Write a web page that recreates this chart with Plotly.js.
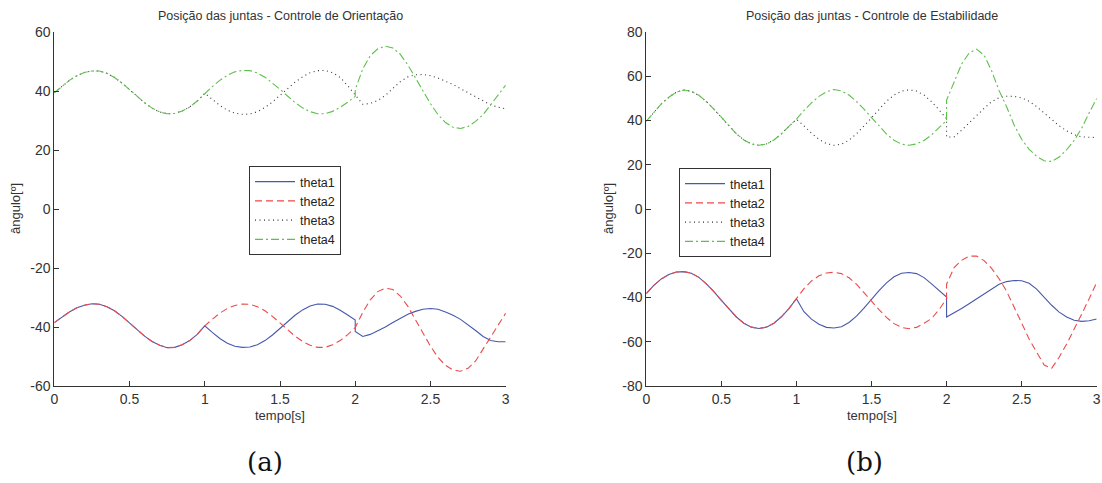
<!DOCTYPE html>
<html>
<head>
<meta charset="utf-8">
<script src="https://cdn.plot.ly/plotly-3.0.1.min.js"></script>
<style>html,body{margin:0;padding:0;background:#fff;}#chart{width:1102px;height:483px;}</style>
</head>
<body>
<div id="chart"></div>
<script>
// Time samples (s); t = 2 appears twice to carry the switching jump
const tempo = [0,0.05,0.1,0.15,0.2,0.25,0.3,0.35,0.4,0.45,0.5,0.55,0.6,0.65,0.7,0.75,0.8,0.85,0.9,0.95,1,
  1.05,1.1,1.15,1.2,1.25,1.3,1.35,1.4,1.45,1.5,1.55,1.6,1.65,1.7,1.75,1.8,1.85,1.9,1.95,2,2,
  2.05,2.1,2.15,2.2,2.25,2.3,2.35,2.4,2.45,2.5,2.55,2.6,2.65,2.7,2.75,2.8,2.85,2.9,2.95,3];

// (a) Controle de Orientação
const a_theta1 = [-38.5,-36.6,-34.9,-33.5,-32.6,-32.1,-32.3,-33.1,-34.5,-36.4,-38.6,-40.9,-43.1,-44.9,-46.2,-47.0,-46.9,-46.0,-44.6,-42.5,-39.6,
  -41.8,-43.9,-45.5,-46.5,-46.9,-46.8,-46.0,-44.6,-42.7,-40.5,-38.2,-36.0,-34.2,-32.9,-32.2,-32.3,-33.0,-34.3,-35.9,-37.6,-41.5,
  -43.2,-42.5,-41.3,-40.0,-38.5,-37.0,-35.7,-34.7,-34.0,-33.7,-34.0,-34.9,-36.0,-37.4,-39.2,-41.2,-43.2,-44.6,-45.0,-45.0];
const a_theta2 = [-38.5,-36.6,-34.9,-33.5,-32.6,-32.1,-32.3,-33.1,-34.5,-36.4,-38.6,-40.9,-43.1,-44.9,-46.2,-47.0,-46.9,-46.0,-44.6,-42.5,-39.6,
  -37.4,-35.3,-33.7,-32.7,-32.2,-32.3,-33.1,-34.5,-36.4,-38.6,-40.9,-43.1,-44.9,-46.2,-46.9,-46.9,-46.0,-44.6,-42.6,-40.2,-40.2,
  -35.0,-30.8,-28.0,-26.8,-27.3,-29.5,-33.0,-37.3,-42.0,-46.5,-50.3,-53.0,-54.6,-55.0,-54.0,-51.5,-47.5,-43.5,-39.3,-35.3];
const a_theta3 = [39.4,41.6,43.6,45.2,46.3,46.8,46.8,46.0,44.6,42.7,40.5,38.2,36.0,34.2,32.9,32.3,32.4,33.2,34.6,36.6,39.2,
  37.2,35.1,33.5,32.5,32.1,32.2,33.0,34.4,36.3,38.5,40.8,43.0,44.8,46.2,46.9,47.0,46.2,44.6,41.8,38.6,38.6,
  35.5,35.8,36.8,38.5,40.8,43.2,44.8,45.5,45.6,45.2,44.4,43.3,42.2,40.8,39.4,37.9,36.5,35.3,34.5,34.0];
const a_theta4 = [39.4,41.6,43.6,45.2,46.3,46.8,46.8,46.0,44.6,42.7,40.5,38.2,36.0,34.2,32.9,32.3,32.4,33.2,34.6,36.6,39.2,
  41.5,43.6,45.3,46.5,47.0,46.9,46.1,44.7,42.8,40.6,38.3,36.1,34.3,33.0,32.3,32.3,33.1,34.5,36.2,38.2,40.5,
  47.5,52.0,54.3,55.2,54.6,52.4,48.8,44.5,40.0,35.7,32.0,29.3,27.7,27.3,28.0,29.7,32.0,35.3,38.7,42.0];

// (b) Controle de Estabilidade
const b_theta1 = [-38.2,-34.5,-31.6,-29.6,-28.5,-28.3,-29.0,-30.9,-33.8,-37.3,-41.3,-45.2,-48.8,-51.6,-53.4,-54.0,-53.4,-51.6,-48.7,-45.0,-40.5,
  -46.4,-49.8,-52.1,-53.5,-53.8,-53.2,-51.3,-48.4,-44.8,-40.8,-36.9,-33.4,-30.6,-29.0,-28.7,-29.2,-31.0,-33.8,-36.9,-39.8,-48.8,
  -47.0,-45.0,-42.8,-40.5,-38.2,-36.0,-34.0,-32.8,-32.3,-32.4,-33.6,-36.2,-39.8,-43.5,-46.6,-48.8,-50.3,-50.8,-50.5,-49.7];
const b_theta2 = [-38.2,-34.5,-31.6,-29.6,-28.5,-28.3,-29.0,-30.9,-33.8,-37.3,-41.3,-45.2,-48.8,-51.6,-53.4,-54.0,-53.4,-51.6,-48.7,-45.0,-40.5,
  -36.0,-32.5,-30.2,-28.9,-28.6,-29.2,-31.1,-34.0,-37.6,-41.6,-45.5,-49.0,-51.8,-53.5,-54.1,-53.5,-51.6,-49.5,-45.5,-40.5,-34.0,
  -26.5,-23.2,-21.3,-21.3,-23.3,-26.8,-31.5,-37.2,-44.0,-51.5,-58.8,-65.0,-70.5,-72.0,-67.0,-61.0,-54.5,-47.5,-40.5,-33.2];
const b_theta3 = [39.7,43.8,47.5,50.5,52.8,53.8,53.2,51.4,48.6,45.2,41.3,37.4,34.0,31.2,29.4,28.8,29.4,31.2,34.0,37.4,40.6,
  37.6,34.3,31.5,29.6,28.8,29.3,31.1,34.0,37.5,41.4,45.3,48.7,51.5,53.3,53.9,53.3,51.5,48.5,44.8,40.8,32.5,
  32.6,35.6,39.0,42.4,45.5,48.5,50.3,51.0,50.9,50.2,48.7,46.3,43.3,40.4,37.6,35.3,33.6,32.6,32.3,32.3];
const b_theta4 = [39.7,43.8,47.5,50.5,52.8,53.8,53.2,51.4,48.6,45.2,41.3,37.4,34.0,31.2,29.4,28.8,29.4,31.2,34.0,37.4,40.6,
  44.5,48.0,50.9,53.0,54.0,53.4,51.5,48.6,45.1,41.2,37.3,33.9,31.1,29.3,28.8,29.4,31.0,33.5,36.8,40.0,49.2,
  57.5,65.5,70.5,72.3,69.5,62.5,53.5,46.2,38.0,31.5,27.0,23.8,21.8,21.5,23.5,26.8,31.0,36.5,43.5,50.0];

const seriesNames = ['theta1','theta2','theta3','theta4'];
const xTickVals = [0,0.5,1,1.5,2,2.5,3];
const xTickText = ['0','0.5','1','1.5','2','2.5','3'];
const aYTickVals = [-60,-40,-20,0,20,40,60];
const aYTickText = ['-60','-40','-20','0','20','40','60'];
const bYTickVals = [-80,-60,-40,-20,0,20,40,60,80];
const bYTickText = ['-80','-60','-40','-20','0','20','40','60','80'];
const titles = ['Posição das juntas - Controle de Orientação','Posição das juntas - Controle de Estabilidade'];
const captions = ['(a)','(b)'];
const xLabel = 'tempo[s]';
const yLabel = 'ângulo[º]';

const styles = [
  {color:'#4658ad', dash:'solid', width:1.1},
  {color:'#ec4a4a', dash:'7px,4px', width:1.1},
  {color:'#333333', dash:'1px,3.5px', width:1.1},
  {color:'#5ebf4c', dash:'8px,3px,2px,3px', width:1.1}
];

const aData = [a_theta1,a_theta2,a_theta3,a_theta4];
const bData = [b_theta1,b_theta2,b_theta3,b_theta4];
const traces = [];
aData.forEach((ys,i)=>traces.push({x:tempo,y:ys,name:seriesNames[i],type:'scatter',mode:'lines',
  line:styles[i],xaxis:'x',yaxis:'y',legend:'legend'}));
bData.forEach((ys,i)=>traces.push({x:tempo,y:ys,name:seriesNames[i],type:'scatter',mode:'lines',
  line:styles[i],xaxis:'x2',yaxis:'y2',legend:'legend2'}));

const font = "'Liberation Sans', Arial, sans-serif";
function xax(dom, anchor){
  return {domain:dom, range:[0,3], anchor:anchor, tickvals:xTickVals, ticktext:xTickText,
    ticks:'inside', ticklen:5, tickcolor:'#333', showline:true, linecolor:'#333', linewidth:1,
    showgrid:false, zeroline:false, fixedrange:true, tickfont:{family:font,size:14,color:'#333'}};
}
function yax(range, vals, text, anchor){
  return {domain:[0.2008,0.9337], range:range, anchor:anchor, tickvals:vals, ticktext:text,
    ticks:'inside', ticklen:5, tickcolor:'#333', showline:true, linecolor:'#333', linewidth:1,
    showgrid:false, zeroline:false, fixedrange:true, tickfont:{family:font,size:14,color:'#333'}};
}
function legendCfg(x,y){
  return {x:x, y:y, xanchor:'left', yanchor:'top', xref:'paper', yref:'paper',
    bgcolor:'#ffffff', bordercolor:'#333', borderwidth:1, font:{family:font,size:12.5,color:'#222'},
    tracegroupgap:0, itemwidth:40};
}

const ann = [];
[['x','x domain'],['x2','x2 domain']].forEach((p,i)=>{
  ann.push({text:titles[i], xref:p[1], x:0.5, yref:'paper', y:1-16/483, xanchor:'center', yanchor:'middle',
    showarrow:false, font:{family:font,size:12.5,color:'#333'}});
  ann.push({text:xLabel, xref:p[1], x:0.5, yref:'paper', y:1-415/483, xanchor:'center', yanchor:'middle',
    showarrow:false, font:{family:font,size:13,color:'#333'}});
  ann.push({text:captions[i], xref:'paper', x:(i===0?265:864)/1102, yref:'paper', y:1-462/483, xanchor:'center', yanchor:'middle',
    showarrow:false, font:{family:"'DejaVu Serif', serif",size:26,color:'#111'}});
});
ann.push({text:yLabel, xref:'paper', x:15/1102, yref:'paper', y:1-209/483, textangle:-90, xanchor:'center', yanchor:'middle',
  showarrow:false, font:{family:font,size:13,color:'#333'}});
ann.push({text:yLabel, xref:'paper', x:608/1102, yref:'paper', y:1-209/483, textangle:-90, xanchor:'center', yanchor:'middle',
  showarrow:false, font:{family:font,size:13,color:'#333'}});

const layout = {
  width:1102, height:483, margin:{l:0,r:0,t:0,b:0}, paper_bgcolor:'#fff', plot_bgcolor:'#fff',
  xaxis:xax([54.3/1102,505.7/1102],'y'),
  yaxis:yax([-60,60],aYTickVals,aYTickText,'x'),
  xaxis2:xax([646.3/1102,1096.7/1102],'y2'),
  yaxis2:yax([-80,80],bYTickVals,bYTickText,'x2'),
  legend:legendCfg(249/1102,1-166/483),
  legend2:legendCfg(679/1102,1-168/483),
  annotations:ann, showlegend:true
};
Plotly.newPlot('chart', traces, layout, {displayModeBar:false, staticPlot:true});
</script>
</body>
</html>
